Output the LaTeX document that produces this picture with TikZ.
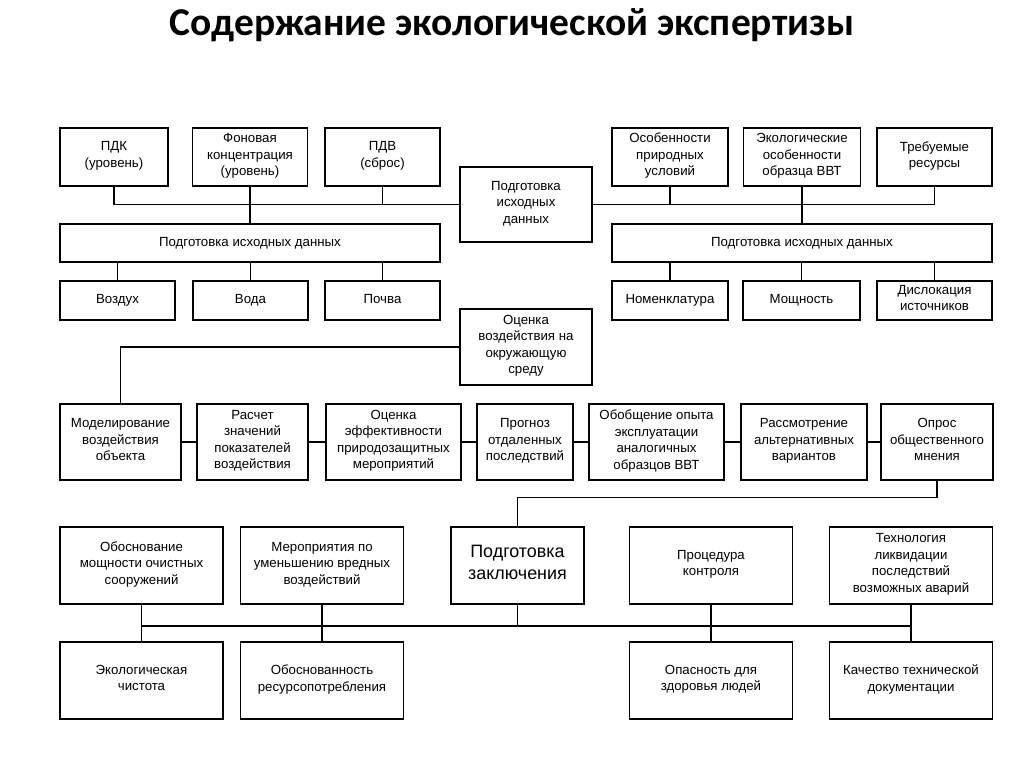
\documentclass[tikz,border=0pt]{standalone}
\usepackage{fontspec}
\setmainfont{Liberation Sans}
\newfontfamily\titlefont{Carlito}
\usepackage{tikz}
\usetikzlibrary{calc,positioning}
\tikzset{blk/.style={draw,rectangle,align=center,inner sep=0pt,line width=1.4bp,text=black,
font=\fontsize{13.3}{16.5}\selectfont,execute at begin node=\strut,execute at end node=\strut},
wide/.style={blk,minimum width=380bp,minimum height=38bp}}
\tikzstyle{top}  = [blk, minimum height=58bp]
\tikzstyle{mid}  = [blk, minimum height=76bp]
\tikzstyle{low}  = [blk, minimum height=77bp, minimum width=163bp]
\tikzstyle{link} = [line width=1.4bp]

\begin{document}
\begin{tikzpicture}[x=1bp,y=-1bp]
		\useasboundingbox[fill=white] (0,0) rectangle (1024,767);
		\node[anchor=base] (title) at (512,36) {\titlefont\bfseries\fontsize{39.6}{46}\selectfont Содержание экологической экспертизы};

		\node[top,minimum width=108bp] (pdk) at (114,157) {ПДК\\(уровень)};
		\node[top,minimum width=115bp] (fon) at (250,157) {Фоновая\\концентрация\\(уровень)};
		\node[top,minimum width=115bp] (pdv) at (382.5,157) {ПДВ\\(сброс)};
		\node[mid,minimum width=132bp,minimum height=75bp] (prep) at (526,204.5) {Подготовка\\исходных\\данных};
		\node[top,minimum width=116bp] (osob) at (670,157) {Особенности\\природных\\условий};
		\node[top,minimum width=117bp] (ekobr) at (802,157) {Экологические\\особенности\\образца ВВТ};
		\node[top,minimum width=115bp] (treb) at (934.5,157) {Требуемые\\ресурсы};

		\node[wide] (dataL) at (250,243) {Подготовка исходных данных};
		\node[wide] (dataR) at (802,243) {Подготовка исходных данных};

		\node[blk,minimum width=115bp,minimum height=39bp] (air) at (117.5,300.5) {Воздух};
		\node[blk,minimum width=115bp,minimum height=39bp] (water) at (250.5,300.5) {Вода};
		\node[blk,minimum width=115bp,minimum height=39bp] (soil) at (382.5,300.5) {Почва};
		\node[blk,minimum width=116bp,minimum height=39bp] (nom) at (670,300.5) {Номенклатура};
		\node[blk,minimum width=117bp,minimum height=39bp] (power) at (801.5,300.5) {Мощность};
		\node[blk,minimum width=115bp,minimum height=39bp] (disl) at (934.5,300.5) {Дислокация\\источников};

		\node[mid,minimum width=132bp] (ovos) at (526,347) {Оценка\\воздействия на\\окружающую\\среду};

		\node[mid,minimum width=121bp] (model) at (120.5,442) {Моделирование\\воздействия\\объекта};
		\node[mid,minimum width=111bp] (calc) at (252.5,442) {Расчет\\значений\\показателей\\воздействия};
		\node[mid,minimum width=135bp] (effect) at (393.5,442) {Оценка\\эффективности\\природозащитных\\мероприятий};
		\node[mid,minimum width=96bp] (progn) at (525,442) {Прогноз\\отдаленных\\последствий};
		\node[mid,minimum width=135bp] (exper) at (656.5,442) {Обобщение опыта\\эксплуатации\\аналогичных\\образцов ВВТ};
		\node[mid,minimum width=126bp] (alter) at (804,442) {Рассмотрение\\альтернативных\\вариантов};
		\node[mid,minimum width=112bp] (opros) at (937,442) {Опрос\\общественного\\мнения};

		\node[low] (cleanpow) at (141.5,565.5) {Обоснование\\мощности очистных\\сооружений};
		\node[low] (reduce) at (322,565.5) {Мероприятия по\\уменьшению вредных\\воздействий};
		\node[low,minimum width=133bp,font=\fontsize{18}{22}\selectfont] (concl) at (517.5,565.5) {Подготовка\\заключения};
		\node[low] (control) at (711,565.5) {Процедура\\контроля};
		\node[low] (techn) at (911,565.5) {Технология\\ликвидации\\последствий\\возможных аварий};

		\node[low] (purity) at (141.5,680.5) {Экологическая\\чистота};
		\node[low] (resrc) at (322,680.5) {Обоснованность\\ресурсопотребления};
		\node[low] (danger) at (711,680.5) {Опасность для\\здоровья людей};
		\node[low] (quality) at (911,680.5) {Качество технической\\документации};

		\draw[link] (pdk.south) |- (prep.west);
		\draw[link] (pdv.south) -- (pdv.south |- prep.west);
		\draw[link] (fon.south) -- (dataL.north);
		\draw[link] (prep.east) -| (treb.south);
		\draw[link] (osob.south) -- (osob.south |- prep.east);
		\draw[link] (ekobr.south) -- (dataR.north);
		\foreach \n in {air,water,soil}
			\draw[link] (\n.north) -- (\n.north |- dataL.south);
		\foreach \n in {nom,power,disl}
			\draw[link] (\n.north) -- (\n.north |- dataR.south);

		\draw[link] (ovos.west) -| (model.north);
		\foreach \a/\b in {model/calc,calc/effect,effect/progn,progn/exper,exper/alter,alter/opros}
			\draw[link] (\a) -- (\b);
		\draw[link] (opros.south) -- ++(0,17) -| (concl.north);

		\path (cleanpow.south) -- (purity.north) coordinate[pos=.58] (busL);
		\path (techn.south) -- (quality.north) coordinate[pos=.58] (busR);
		\draw[link] (busL) -- (busR);
		\foreach \a/\b in {cleanpow/purity,reduce/resrc,control/danger,techn/quality}
			\draw[link] (\a.south) -- (\b.north);
		\draw[link] (concl.south) -- (concl.south |- busL);
	\end{tikzpicture}
\end{document}
